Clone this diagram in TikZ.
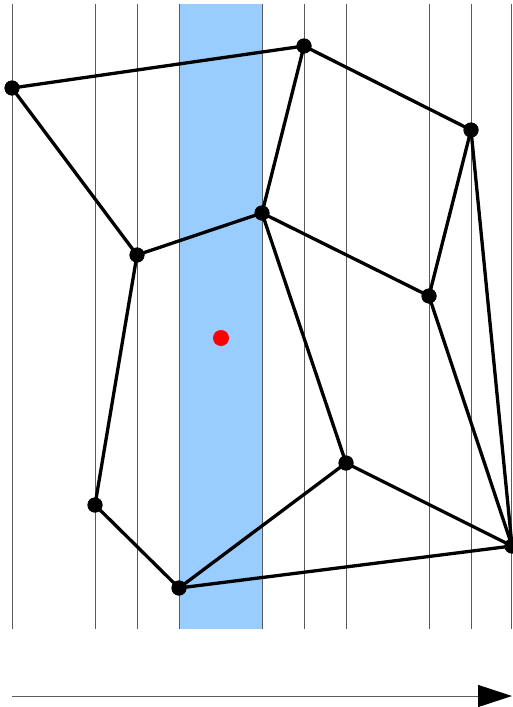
\documentclass[tikz,border=0pt]{standalone}
\usetikzlibrary{arrows.meta}
\definecolor{band}{RGB}{153,204,255}
\definecolor{grid}{RGB}{90,90,90}
\begin{document}
\begin{tikzpicture}[x=1pt,y=-1pt,
  vtx/.style={circle,fill=black,inner sep=0pt,minimum size=15pt},
  edge/.style={line width=3.3pt,black},
  gridline/.style={line width=0.9pt,grid}]
\useasboundingbox (0,0) rectangle (512,707);
\fill[band] (179,4) rectangle (262,629);
\foreach \x in {12,95,137,179,262,304,346,429,471,511.5}
  \draw[gridline] (\x,4) -- (\x,629);
\node[vtx] (A) at (12,88) {};
\node[vtx] (B) at (304,46) {};
\node[vtx] (C) at (471,130) {};
\node[vtx] (D) at (262,213) {};
\node[vtx] (E) at (137,255) {};
\node[vtx] (F) at (429,296) {};
\node[vtx] (G) at (346,463) {};
\node[vtx] (H) at (95,505) {};
\node[vtx] (I) at (179,588) {};
\node[vtx] (J) at (512,546) {};
\node[circle,fill=red,inner sep=0pt,minimum size=16pt] (R) at (221,338) {};
\draw[edge] (A.center) -- (B.center);
\draw[edge] (A.center) -- (E.center);
\draw[edge] (B.center) -- (D.center);
\draw[edge] (B.center) -- (C.center);
\draw[edge] (C.center) -- (F.center);
\draw[edge] (C.center) -- (J.center);
\draw[edge] (D.center) -- (E.center);
\draw[edge] (D.center) -- (F.center);
\draw[edge] (D.center) -- (G.center);
\draw[edge] (E.center) -- (H.center);
\draw[edge] (H.center) -- (I.center);
\draw[edge] (I.center) -- (G.center);
\draw[edge] (I.center) -- (J.center);
\draw[edge] (G.center) -- (J.center);
\draw[edge] (F.center) -- (J.center);
\foreach \n in {A,B,C,D,E,F,G,H,I,J}
  \fill (\n) circle (7.5pt);
\coordinate (s) at (12,696);
\coordinate (t) at (512,696);
\draw[line width=1pt,grid,-{Triangle[length=34pt,width=22pt,fill=black,color=black]}] (s) -- (t);
\end{tikzpicture}
\end{document}
